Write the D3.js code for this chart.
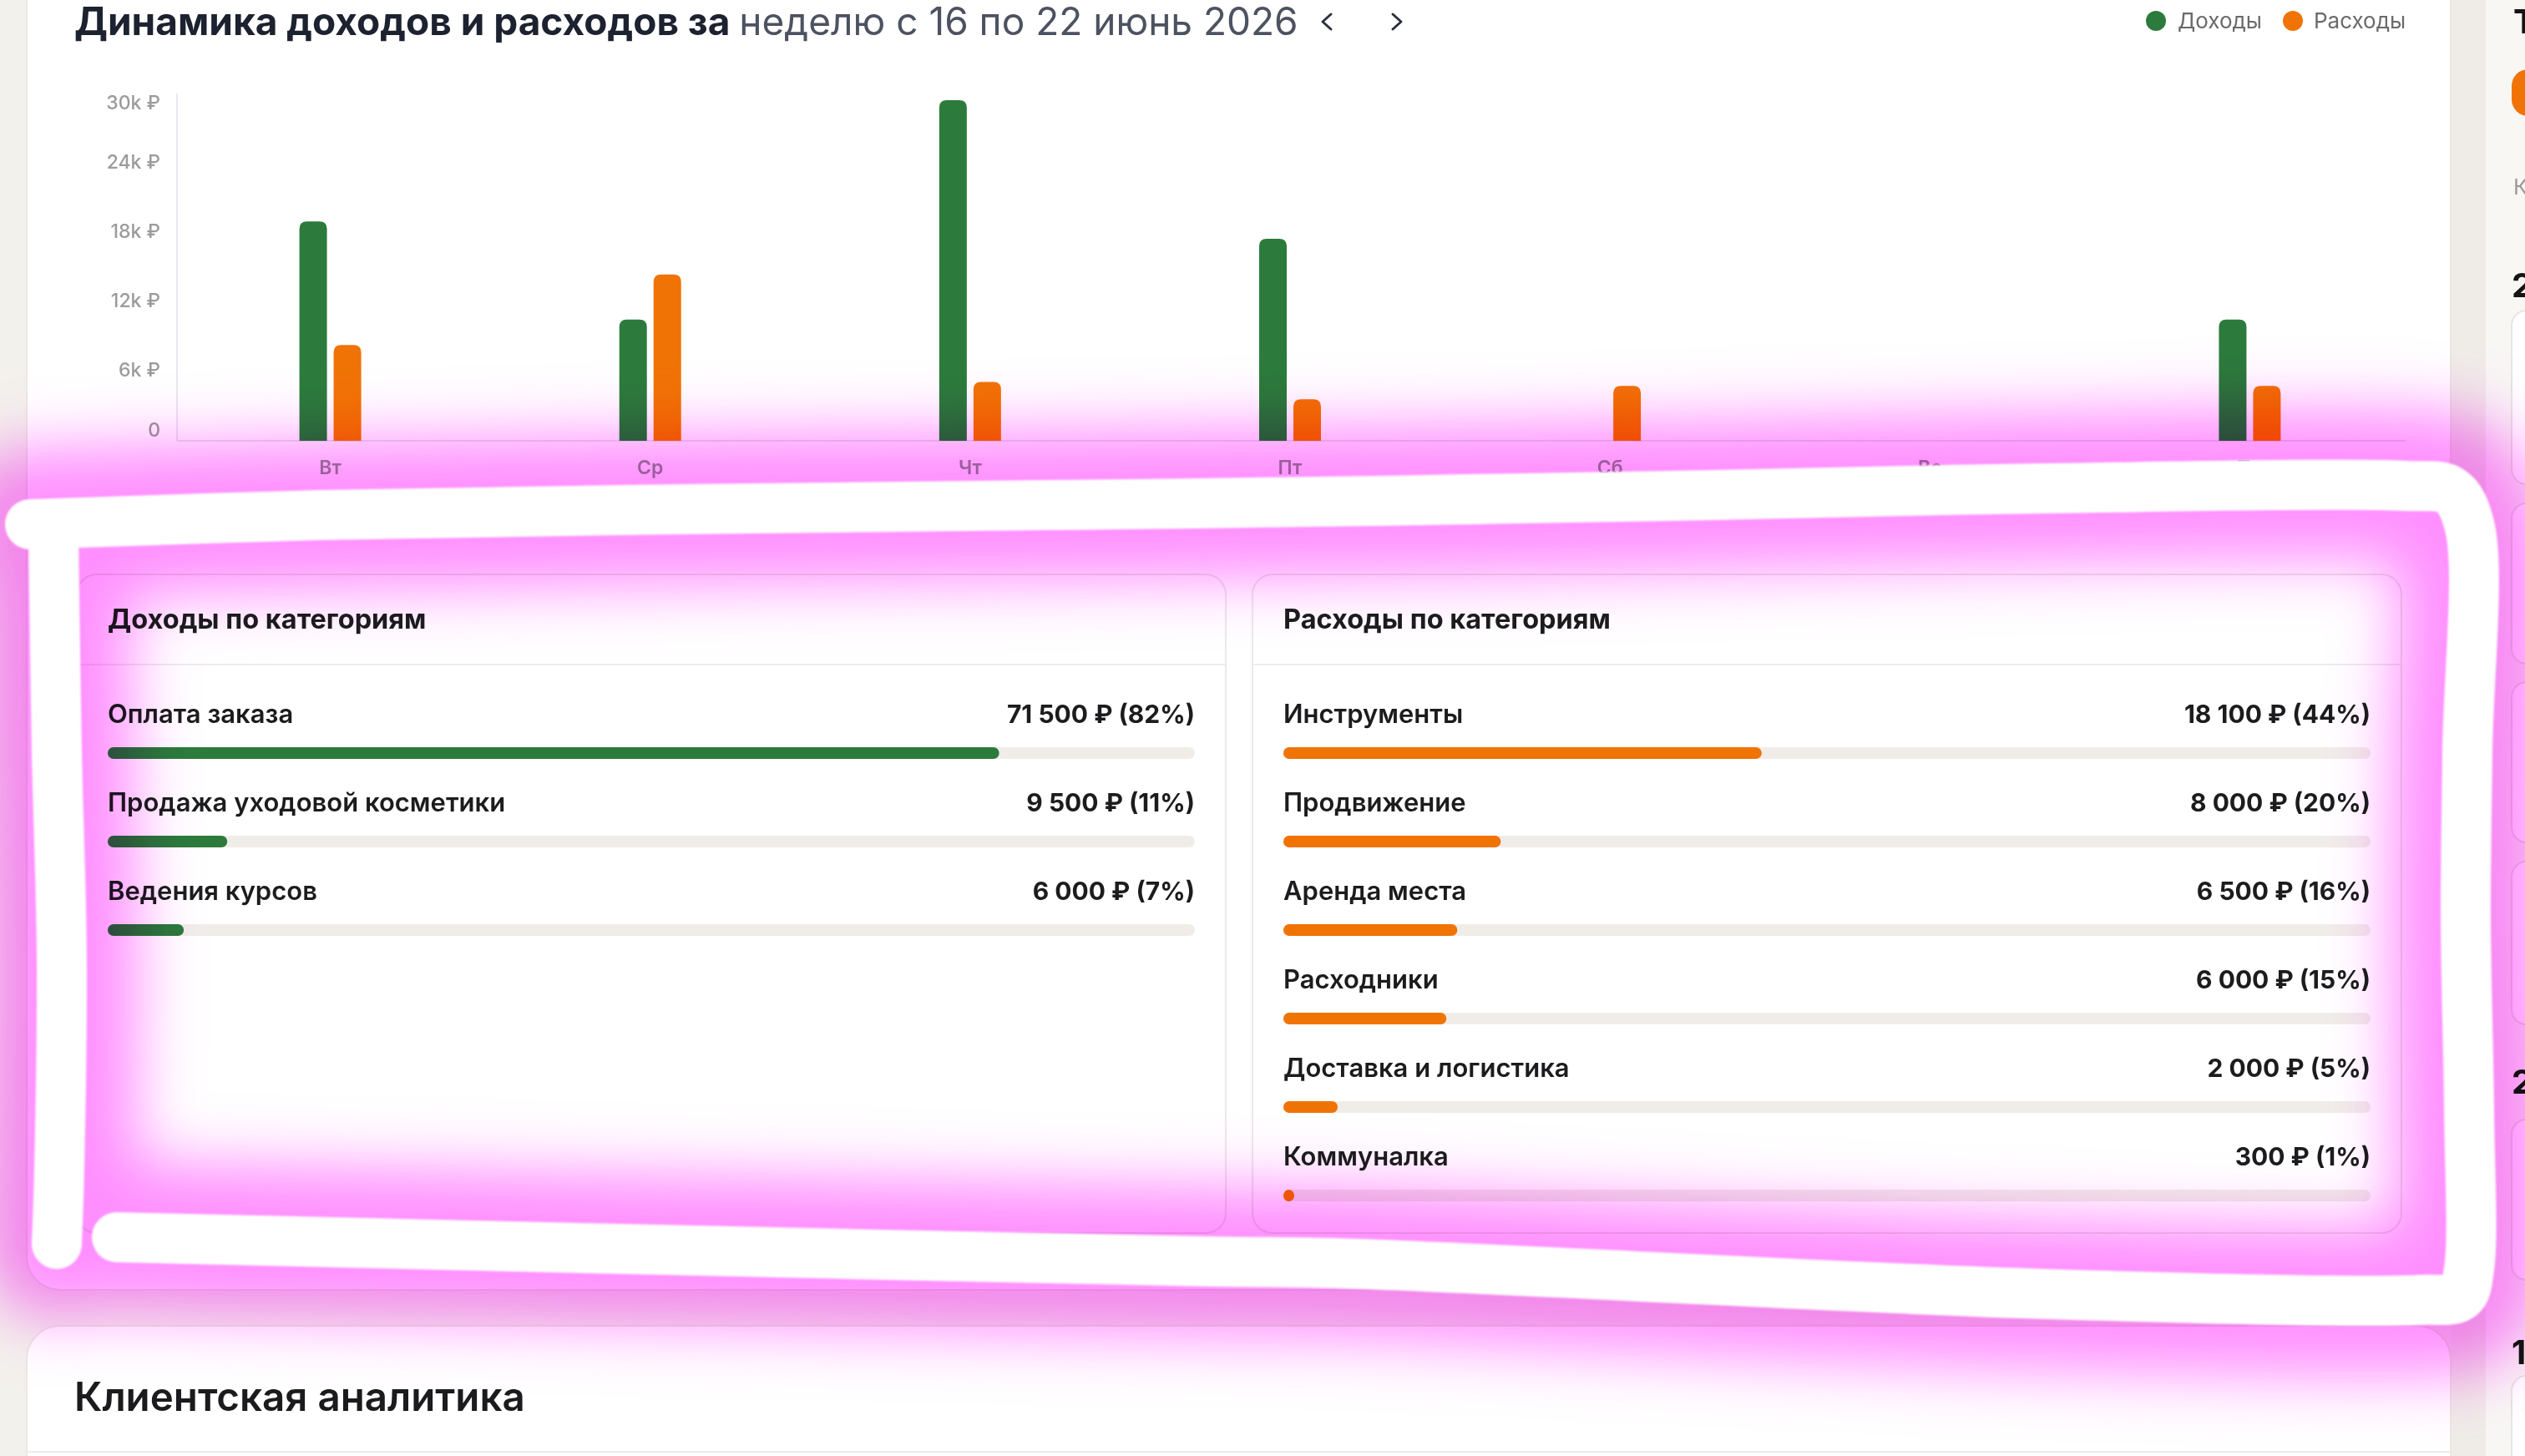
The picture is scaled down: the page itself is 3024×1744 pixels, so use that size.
<!DOCTYPE html>
<html><head><meta charset="utf-8">
<script src="https://cdn.jsdelivr.net/npm/d3@7"></script>
<style>
html,body{margin:0;padding:0;background:#f3f1ec;overflow:hidden}
svg{display:block;font-family:Inter,"Noto Sans",sans-serif}
</style></head><body>
<script>
// ---------- data ----------
const days = ["Вт","Ср","Чт","Пт","Сб","Вс","Пн"];
const incomeByDay  = [19000, 10500, 29500, 17500, 0, 0, 10500];
const expenseByDay = [8300, 14400, 5100, 3600, 4750, 0, 4750];
const yTicks = [0, 6000, 12000, 18000, 24000, 30000];
const yTickLabels = ["0", "6k ₽", "12k ₽", "18k ₽", "24k ₽", "30k ₽"];
const seriesNames = ["Доходы", "Расходы"];
const incomeCats = ["Оплата заказа", "Продажа уходовой косметики", "Ведения курсов"];
const incomeVals = [71500, 9500, 6000];
const incomePct  = [82, 11, 7];
const expenseCats = ["Инструменты", "Продвижение", "Аренда места", "Расходники", "Доставка и логистика", "Коммуналка"];
const expenseVals = [18100, 8000, 6500, 6000, 2000, 300];
const expensePct  = [44, 20, 16, 15, 5, 1];
const titleMain = "Динамика доходов и расходов за ";
const titlePeriod = "неделю с 16 по 22 июнь 2026";
// annotation stroke (hand-drawn highlight) centerlines
const markA = [[36,628],[383,617],[900,609],[1435,603],[2000,594],[2450,585],[2880,582],[2935,588],[2958,632],[2955,900],[2953,1100],[2957,1330],[2957,1520],[2947,1552],[2900,1557],[2450,1550],[1600,1513],[1450,1511],[700,1495],[140,1482]];
const markB = [[64,640],[68,900],[74,1150],[71,1400],[68,1490]];

const GREEN = "#2c7b3c", ORANGE = "#f07306";
const W = 3024, H = 1744;
const loc = d3.formatLocale({decimal: ",", thousands: "\u00a0", grouping: [3], currency: ["", " ₽"]});
const fmt = loc.format(",d");

const svg = d3.select("body").append("svg").attr("width", W).attr("height", H);
const defs = svg.append("defs");
defs.append("filter").attr("id","glow").attr("filterUnits","userSpaceOnUse")
  .attr("x",-400).attr("y",-400).attr("width",3900).attr("height",2600)
  .append("feGaussianBlur").attr("stdDeviation",36);
defs.append("filter").attr("id","soft").attr("filterUnits","userSpaceOnUse")
  .attr("x",-400).attr("y",-400).attr("width",3900).attr("height",2600)
  .append("feGaussianBlur").attr("stdDeviation",1.3);

// page background
svg.append("rect").attr("width",W).attr("height",H).attr("fill","#f3f1ec");
svg.append("rect").attr("x",2935).attr("width",42).attr("height",H).attr("fill","#efece7");
svg.append("rect").attr("x",2977).attr("width",W-2977).attr("height",H).attr("fill","#f8f7f4");

// main card
svg.append("rect").attr("x",32).attr("y",-80).attr("width",2903).attr("height",1625).attr("rx",40)
  .attr("fill","#fff").attr("stroke","#ebe8e2").attr("stroke-width",2);
// next card
svg.append("rect").attr("x",32).attr("y",1588).attr("width",2903).attr("height",300).attr("rx",40)
  .attr("fill","#fff").attr("stroke","#ebe8e2").attr("stroke-width",2);
svg.append("line").attr("x1",32).attr("x2",2935).attr("y1",1739).attr("y2",1739).attr("stroke","#ecebe8").attr("stroke-width",2);
svg.append("text").attr("x",89).attr("y",1690).attr("font-size",47.5).attr("font-weight",600)
  .attr("fill","#1b1b1d").text("Клиентская аналитика");

// sidebar fragments
const side = svg.append("g");
side.append("text").attr("x",3010).attr("y",40).attr("font-size",40).attr("font-weight",700).attr("fill","#141414").text("Т");
side.append("rect").attr("x",3008).attr("y",83).attr("width",80).attr("height",56).attr("rx",20).attr("fill",ORANGE);
side.append("text").attr("x",3010).attr("y",233).attr("font-size",26).attr("fill","#9a9a9a").text("К");
side.append("text").attr("x",3008).attr("y",356).attr("font-size",40).attr("font-weight",700).attr("fill","#141414").text("2");
side.append("text").attr("x",3008).attr("y",1310).attr("font-size",40).attr("font-weight",700).attr("fill","#141414").text("2");
side.append("text").attr("x",3008).attr("y",1634).attr("font-size",40).attr("font-weight",700).attr("fill","#141414").text("1");
[[372,580],[603,795],[817,1009],[1032,1227],[1341,1533],[1648,1900]].forEach(([a,b]) =>
  side.append("rect").attr("x",3008).attr("y",a).attr("width",80).attr("height",b-a).attr("rx",18)
    .attr("fill","#fff").attr("stroke","#e8e5e0").attr("stroke-width",2));

// title
const title = svg.append("text").attr("x",89).attr("y",42).attr("font-size",46);
title.append("tspan").attr("font-weight",700).attr("fill","#1d2230").text(titleMain);
title.append("tspan").attr("font-weight",400).attr("fill","#4d5261").text(titlePeriod);
svg.append("path").attr("d","M1594 17 L1584 26 L1594 35").attr("fill","none").attr("stroke","#2b3040").attr("stroke-width",3).attr("stroke-linecap","round").attr("stroke-linejoin","round");
svg.append("path").attr("d","M1668 17 L1678 26 L1668 35").attr("fill","none").attr("stroke","#2b3040").attr("stroke-width",3).attr("stroke-linecap","round").attr("stroke-linejoin","round");

// legend
const legend = svg.append("g");
[[2582, 2608, GREEN],[2746, 2771, ORANGE]].forEach(([cx,tx,c],i) => {
  legend.append("circle").attr("cx",cx).attr("cy",25).attr("r",12).attr("fill",c);
  legend.append("text").attr("x",tx).attr("y",34).attr("font-size",26).attr("fill","#6a6a6a").text(seriesNames[i]);
});

// ---------- bar chart ----------
const x0 = d3.scaleBand().domain(days).range([204, 2886]);
const y = d3.scaleLinear().domain([0, 30000]).range([528, 113]);
const barW = 33, gap = 8, r = 9;
svg.append("line").attr("x1",212).attr("x2",212).attr("y1",112).attr("y2",528).attr("stroke","#e9e7f0").attr("stroke-width",2);
svg.append("line").attr("x1",212).attr("x2",2881).attr("y1",528).attr("y2",528).attr("stroke","#e9e7f0").attr("stroke-width",2);
svg.append("g").selectAll("text").data(yTicks).join("text")
  .attr("x",192).attr("y", d => Math.max(123, Math.min(515, y(d) - 2)))
  .attr("dy","0.35em").attr("text-anchor","end").attr("font-size",23).attr("font-weight",500)
  .attr("fill","#9b9b9b").text((d,i) => yTickLabels[i]);
svg.append("g").selectAll("text").data(days).join("text")
  .attr("x", d => x0(d) + x0.bandwidth()/2).attr("y",560).attr("dy","0.35em")
  .attr("text-anchor","middle").attr("font-size",23).attr("font-weight",600).attr("fill","#9b9b9b").text(d => d);

function topRounded(x, yTop, w, h, rr) {
  rr = Math.min(rr, h, w/2);
  return `M${x},${yTop+h}V${yTop+rr}Q${x},${yTop} ${x+rr},${yTop}H${x+w-rr}Q${x+w},${yTop} ${x+w},${yTop+rr}V${yTop+h}Z`;
}
const barData = [];
days.forEach((d,i) => {
  const c = x0(d) + x0.bandwidth()/2;
  if (incomeByDay[i] > 0) barData.push({x: c - gap/2 - barW, v: incomeByDay[i], c: GREEN});
  if (expenseByDay[i] > 0) barData.push({x: c + gap/2, v: expenseByDay[i], c: ORANGE});
});
svg.append("g").selectAll("path").data(barData).join("path")
  .attr("d", d => topRounded(d.x, y(d.v), barW, y(0) - y(d.v), r)).attr("fill", d => d.c);

// ---------- category cards ----------
function catCard(x0c, heading, cats, vals, pcts, color) {
  const cw = 1376, pad = 37;
  const g = svg.append("g");
  g.append("rect").attr("x",x0c).attr("y",688).attr("width",cw).attr("height",789).attr("rx",24)
    .attr("fill","#fff").attr("stroke","#ece9e8").attr("stroke-width",2);
  g.append("line").attr("x1",x0c).attr("x2",x0c+cw).attr("y1",796).attr("y2",796).attr("stroke","#efedeb").attr("stroke-width",2);
  g.append("text").attr("x",x0c+pad).attr("y",753).attr("font-size",32.5).attr("font-weight",700).attr("fill","#1c1c1e").text(heading);
  const sx = d3.scaleLinear().domain([0,100]).range([0, cw - 2*pad]);
  const rows = g.selectAll("g.row").data(cats.map((c,i)=>({c, v: vals[i], p: pcts[i], i}))).join("g").attr("class","row")
    .attr("transform", d => `translate(0,${106*d.i})`);
  rows.append("text").attr("x",x0c+pad).attr("y",866).attr("font-size",31).attr("font-weight",600).attr("fill","#1c1c1e").text(d => d.c);
  rows.append("text").attr("x",x0c+cw-pad).attr("y",866).attr("text-anchor","end").attr("font-size",30).attr("font-weight",700)
    .attr("fill","#1c1c1e").text(d => `${fmt(d.v)} ₽ (${d.p}%)`);
  rows.append("rect").attr("x",x0c+pad).attr("y",895).attr("width",cw-2*pad).attr("height",14).attr("rx",7).attr("fill","#f0ede8");
  rows.append("rect").attr("x",x0c+pad).attr("y",895).attr("width", d => Math.max(12, sx(d.p))).attr("height",14).attr("rx",7).attr("fill",color);
}
catCard(92, "Доходы по категориям", incomeCats, incomeVals, incomePct, GREEN);
catCard(1500, "Расходы по категориям", expenseCats, expenseVals, expensePct, ORANGE);

// ---------- highlight annotation ----------
const line = d3.line().curve(d3.curveCatmullRom.alpha(0.5));
const glow = svg.append("g").style("mix-blend-mode","multiply").attr("filter","url(#glow)").attr("opacity",0.92);
[markA, markB].forEach(p => glow.append("path").attr("d", line(p)).attr("fill","none")
  .attr("stroke","#ff84ff").attr("stroke-width",180).attr("stroke-linecap","round").attr("stroke-linejoin","round"));
const white = svg.append("g").attr("filter","url(#soft)");
[markA, markB].forEach(p => white.append("path").attr("d", line(p)).attr("fill","none")
  .attr("stroke","#ffffff").attr("stroke-width",60).attr("stroke-linecap","round").attr("stroke-linejoin","round"));
</script>
</body></html>
